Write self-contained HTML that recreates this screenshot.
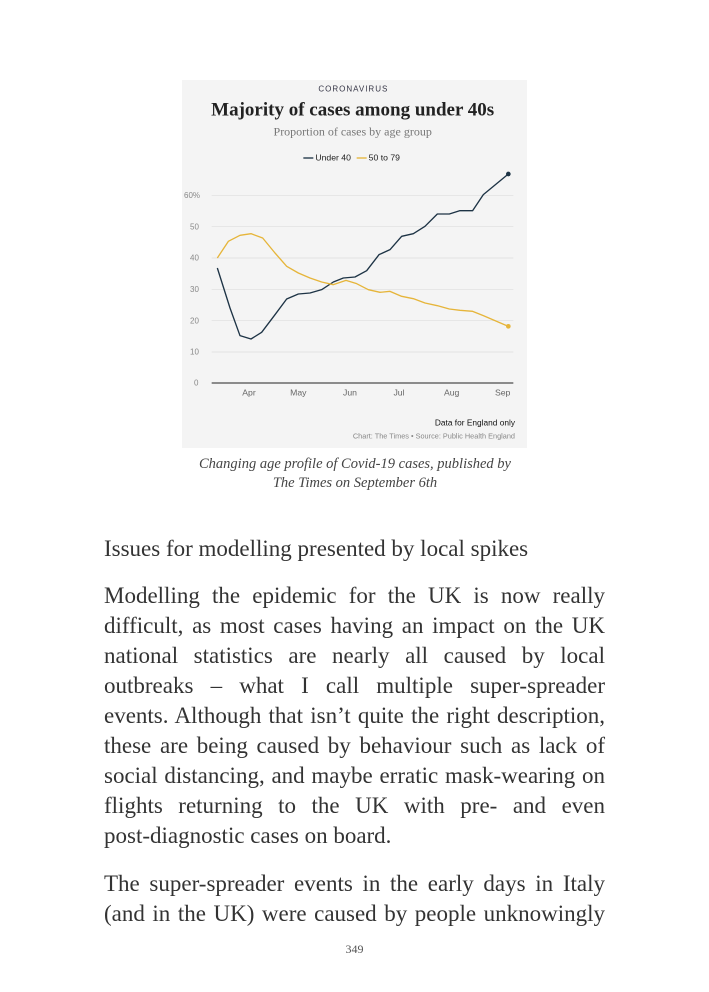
<!DOCTYPE html>
<html><head><meta charset="utf-8"><style>
body{margin:0;background:#fff;width:709px;height:992px;position:relative;overflow:hidden;font-family:"Liberation Serif",serif;color:#333}
.l{position:absolute;left:104px;width:501px;font-size:23px;line-height:30px;white-space:nowrap}
.j{text-align:justify;text-align-last:justify;white-space:normal}
.cap{position:absolute;left:150px;width:410px;text-align:center;font-style:italic;font-size:14.5px;color:#444}
</style></head><body>
<svg style="position:absolute;left:180px;top:78px" width="350" height="372" viewBox="0 0 1050 1116" font-family="Liberation Sans, sans-serif">
<rect x="6" y="6" width="1035" height="1104" fill="#f4f4f4"/>
<text x="520" y="40" font-size="24" fill="#334" text-anchor="middle" letter-spacing="3">CORONAVIRUS</text>
<text x="518" y="112" font-size="57" font-weight="bold" font-family="Liberation Serif, serif" fill="#222" text-anchor="middle">Majority of cases among under 40s</text>
<text x="518" y="172" font-size="36" font-family="Liberation Serif, serif" fill="#777" text-anchor="middle">Proportion of cases by age group</text>
<line x1="370" y1="240" x2="400" y2="240" stroke="#1d3345" stroke-width="4"/>
<text x="406" y="248" font-size="26" fill="#222">Under 40</text>
<line x1="530" y1="240" x2="560" y2="240" stroke="#e6b53a" stroke-width="4"/>
<text x="566" y="248" font-size="26" fill="#222">50 to 79</text>
<g stroke="#ddd" stroke-width="2">
<line x1="95" y1="352" x2="1000" y2="352"/><line x1="95" y1="446" x2="1000" y2="446"/><line x1="95" y1="540" x2="1000" y2="540"/><line x1="95" y1="634" x2="1000" y2="634"/><line x1="95" y1="728" x2="1000" y2="728"/><line x1="95" y1="822" x2="1000" y2="822"/>
</g>
<line x1="95" y1="915" x2="1000" y2="915" stroke="#222" stroke-width="3"/>
<g font-size="24" fill="#888">
<text x="12" y="360">60%</text><text x="30" y="454">50</text><text x="30" y="548">40</text><text x="30" y="642">30</text><text x="30" y="736">20</text><text x="30" y="830">10</text><text x="42" y="923">0</text>
</g>
<g font-size="26" fill="#666" text-anchor="middle">
<text x="207" y="952">Apr</text><text x="355" y="952">May</text><text x="510" y="952">Jun</text><text x="657" y="952">Jul</text><text x="815" y="952">Aug</text><text x="968" y="952">Sep</text>
</g>
<polyline fill="none" stroke="#1d3345" stroke-width="4" stroke-linejoin="round" points="112,570 150,690 180,773 213,783 245,763 285,710 320,663 355,648 390,645 425,635 460,612 490,600 525,597 560,578 597,530 630,515 665,475 700,467 735,445 772,408 808,408 840,398 878,398 910,350 985,288"/>
<circle cx="985" cy="288" r="7" fill="#1d3345"/>
<polyline fill="none" stroke="#e6b53a" stroke-width="4" stroke-linejoin="round" points="112,540 145,490 180,472 213,467 248,480 285,525 320,565 355,585 390,600 425,612 460,620 498,607 530,617 565,635 600,643 630,640 665,655 700,662 735,675 772,683 808,693 840,697 878,700 910,713 985,745"/>
<circle cx="985" cy="745" r="7" fill="#e6b53a"/>
<text x="1005" y="1042" font-size="25" fill="#111" text-anchor="end">Data for England only</text>
<text x="1005" y="1082" font-size="22" fill="#888" text-anchor="end">Chart: The Times • Source: Public Health England</text>
</svg>
<div class="cap" style="top:456px">Changing age profile of Covid-19 cases, published by</div>
<div class="cap" style="top:475px">The Times on September 6th</div>
<div class="l" style="top:534px">Issues for modelling presented by local spikes</div>
<div class="l j" style="top:581px">Modelling the epidemic for the UK is now really</div>
<div class="l j" style="top:611px">difficult, as most cases having an impact on the UK</div>
<div class="l j" style="top:641px">national statistics are nearly all caused by local</div>
<div class="l j" style="top:671px">outbreaks – what I call multiple super-spreader</div>
<div class="l j" style="top:701px">events. Although that isn’t quite the right description,</div>
<div class="l j" style="top:731px">these are being caused by behaviour such as lack of</div>
<div class="l j" style="top:761px">social distancing, and maybe erratic mask-wearing on</div>
<div class="l j" style="top:791px">flights returning to the UK with pre- and even</div>
<div class="l" style="top:821px">post-diagnostic cases on board.</div>
<div class="l j" style="top:869px">The super-spreader events in the early days in Italy</div>
<div class="l j" style="top:899px">(and in the UK) were caused by people unknowingly</div>
<div style="position:absolute;top:942px;left:0;width:709px;text-align:center;font-size:12px;color:#555">349</div>
</body></html>
